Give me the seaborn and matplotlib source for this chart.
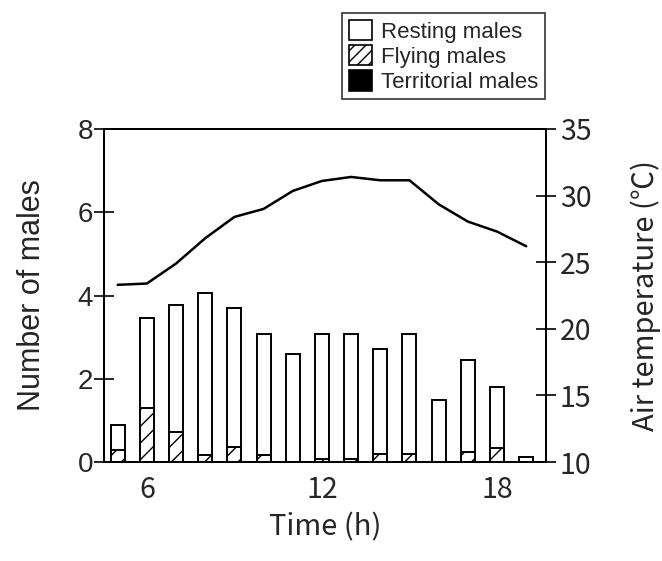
import matplotlib
matplotlib.use("Agg")
import matplotlib.pyplot as plt
from matplotlib.patches import Patch
import seaborn as sns
import pandas as pd
import numpy as np

hours = [5, 6, 7, 8, 9, 10, 11, 12, 13, 14, 15, 16, 17, 18, 19]
resting = [0.60, 2.18, 3.07, 3.89, 3.34, 2.89, 2.59, 3.00, 3.00, 2.51, 2.88, 1.48, 2.22, 1.45, 0.11]
flying = [0.29, 1.29, 0.71, 0.18, 0.36, 0.18, 0.0, 0.08, 0.08, 0.20, 0.20, 0.0, 0.23, 0.34, 0.0]
territorial = [0, 0, 0, 0, 0, 0, 0, 0, 0, 0, 0, 0, 0, 0, 0]
temperature = [23.3, 23.4, 24.9, 26.8, 28.4, 29.0, 30.35, 31.1, 31.4, 31.15, 31.15, 29.35, 28.05, 27.3, 26.2]

legend_labels = ["Resting males", "Flying males", "Territorial males"]
xticks = [6, 12, 18]
yticks_left = [0, 2, 4, 6, 8]
yticks_right = [10, 15, 20, 25, 30, 35]

df = pd.DataFrame({"hour": hours, "resting": resting, "flying": flying,
                   "territorial": territorial, "temp": temperature})
df["fly_top"] = df["territorial"] + df["flying"]
df["total"] = df["fly_top"] + df["resting"]

sns.set_style("white")
plt.rcParams["hatch.linewidth"] = 1.0
JP = ["Noto Sans CJK JP", "DejaVu Sans"]
HEL = ["Liberation Sans", "DejaVu Sans"]

fig = plt.figure(figsize=(6.62, 5.61), dpi=100)
ax = fig.add_axes([104/662, 1-462/561, (546-104)/662, (462-129)/561])

bar_kw = dict(native_scale=True, width=0.48, edgecolor="black", linewidth=1.4, ax=ax)
sns.barplot(data=df, x="hour", y="total", color="white", **bar_kw)
sns.barplot(data=df, x="hour", y="fly_top", color="white", hatch="//", **bar_kw)
sns.barplot(data=df, x="hour", y="territorial", color="black", **bar_kw)

ax.set_xlim(4.53, 19.68)
ax.set_ylim(0, 8)
ax.set_xticks(xticks)
ax.set_xticklabels([str(t) for t in xticks], fontfamily=JP, fontsize=20.5)
ax.set_yticks(yticks_left)
ax.set_yticklabels([str(t) for t in yticks_left], fontfamily=HEL, fontsize=20)
ax.tick_params(axis="x", length=0, pad=9)
ax.tick_params(axis="y", direction="inout", length=14, width=1.4, pad=1, left=True)
ax.set_xlabel("Time (h)", fontfamily=JP, fontsize=21, labelpad=6)
ax.set_ylabel("Number of males", fontfamily=HEL, fontsize=22, labelpad=22)
for s in ax.spines.values():
    s.set_color("black")
    s.set_linewidth(1.4)

ax2 = ax.twinx()
sns.lineplot(data=df, x="hour", y="temp", color="black", linewidth=1.8, ax=ax2)
ax2.set_ylim(10, 35)
ax2.set_yticks(yticks_right)
ax2.set_yticklabels([str(t) for t in yticks_right], fontfamily=JP, fontsize=20.5)
ax2.tick_params(axis="y", direction="inout", length=14, width=1.4, pad=3, right=True)
ax2.set_ylabel("Air temperature (℃)", fontfamily=JP, fontsize=21, labelpad=28)
for s in ax2.spines.values():
    s.set_color("black")
    s.set_linewidth(1.4)

handles = [Patch(facecolor="white", edgecolor="black", linewidth=1.2),
           Patch(facecolor="white", edgecolor="black", hatch="///", linewidth=1.2),
           Patch(facecolor="black", edgecolor="black", linewidth=1.2)]
leg = fig.legend(handles, legend_labels, loc="upper right",
                 bbox_to_anchor=(545/662, 1-13/561), frameon=True, fancybox=False,
                 edgecolor="black", prop={"family": HEL, "size": 16},
                 handlelength=1.05, handleheight=1.05, handletextpad=0.4,
                 labelspacing=0.1, borderpad=0.3, borderaxespad=0)
leg.get_frame().set_linewidth(1.2)

fig.savefig("out.png", dpi=100)
